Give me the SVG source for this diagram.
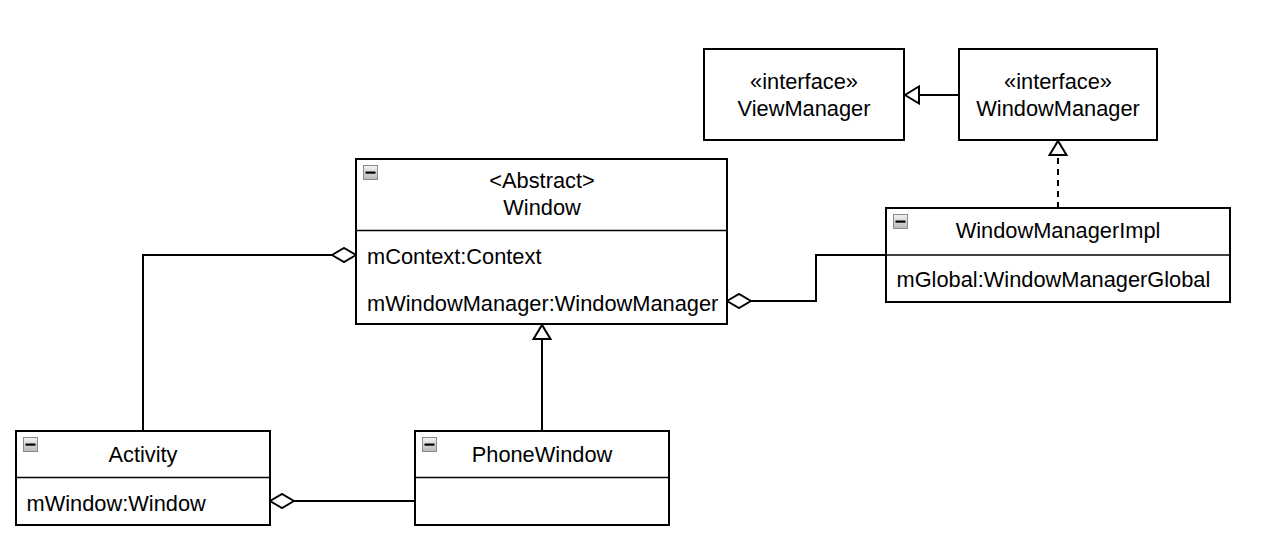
<svg xmlns="http://www.w3.org/2000/svg" width="1262" height="549" viewBox="0 0 1262 549">
<defs>
<style>
.box{fill:#fff;stroke:#000;stroke-width:2}
.div{stroke:#000;stroke-width:1.5}
.t{font-family:"Liberation Sans",Arial,sans-serif;font-size:21.8px;fill:#000}
.c{text-anchor:middle}
.ln{fill:none;stroke:#000;stroke-width:2}
.dash{stroke-dasharray:6,5}
.ic{fill:url(#g);stroke:#8a8a8a;stroke-width:1}
</style>
<linearGradient id="g" x1="0" y1="0" x2="0" y2="1">
<stop offset="0" stop-color="#f4f4f4"/>
<stop offset="1" stop-color="#b8b8b8"/>
</linearGradient>
<g id="icon"><rect class="ic" x="0.5" y="0.5" width="14" height="14"/><rect x="2.5" y="6.5" width="10" height="2.2" fill="#000"/></g>
<marker id="dia" viewBox="0 0 26 16" refX="25" refY="8" markerWidth="26" markerHeight="16" markerUnits="userSpaceOnUse" orient="auto"><path d="M1,8 L13,1 L25,8 L13,15 Z" fill="#fff" stroke="#000" stroke-width="2"/></marker>
<marker id="tri" viewBox="0 0 18 20" refX="16" refY="10" markerWidth="18" markerHeight="20" markerUnits="userSpaceOnUse" orient="auto"><path d="M2,1.5 L16,10 L2,18.5 Z" fill="#fff" stroke="#000" stroke-width="2"/></marker>
</defs>
<rect width="1262" height="549" fill="#fff"/>
<g id="connectors">
<path class="ln" d="M143,430 V255 H356" marker-end="url(#dia)"/>
<path class="ln" d="M415,501 H270" marker-end="url(#dia)"/>
<path class="ln" d="M886,255 H816 V301 H727" marker-end="url(#dia)"/>
<path class="ln" d="M542,430 V325" marker-end="url(#tri)"/>
<path class="ln dash" d="M1058,208 V141" marker-end="url(#tri)"/>
<path class="ln" d="M959,95 H905" marker-end="url(#tri)"/>
</g>
<g id="Window">
<rect class="box" x="356" y="159" width="371" height="165"/>
<line class="div" x1="356" y1="230.5" x2="727" y2="230.5"/>
<use href="#icon" x="363" y="165"/>
<text class="t c" x="542" y="188">&lt;Abstract&gt;</text>
<text class="t c" x="542" y="214.5">Window</text>
<text class="t" x="367" y="263.5">mContext:Context</text>
<text class="t" x="367" y="310.5">mWindowManager:WindowManager</text>
</g>
<g id="Activity">
<rect class="box" x="16" y="431" width="254" height="94"/>
<line class="div" x1="16" y1="477.5" x2="270" y2="477.5"/>
<use href="#icon" x="23" y="437"/>
<text class="t c" x="143" y="461.5">Activity</text>
<text class="t" x="26.5" y="510.5">mWindow:Window</text>
</g>
<g id="PhoneWindow">
<rect class="box" x="415" y="431" width="254" height="94"/>
<line class="div" x1="415" y1="477.5" x2="669" y2="477.5"/>
<use href="#icon" x="422" y="437"/>
<text class="t c" x="542" y="461.5">PhoneWindow</text>
</g>
<g id="ViewManager">
<rect class="box" x="704" y="49" width="200" height="91"/>
<text class="t c" x="804" y="88.5">«interface»</text>
<text class="t c" x="804" y="115.5">ViewManager</text>
</g>
<g id="WindowManager">
<rect class="box" x="959" y="49" width="198" height="91"/>
<text class="t c" x="1058" y="88.5">«interface»</text>
<text class="t c" x="1058" y="115.5">WindowManager</text>
</g>
<g id="WindowManagerImpl">
<rect class="box" x="886" y="208" width="344" height="94"/>
<line class="div" x1="886" y1="255" x2="1230" y2="255"/>
<use href="#icon" x="893" y="214"/>
<text class="t c" x="1058" y="238">WindowManagerImpl</text>
<text class="t" x="896.5" y="286.5">mGlobal:WindowManagerGlobal</text>
</g>
</svg>
